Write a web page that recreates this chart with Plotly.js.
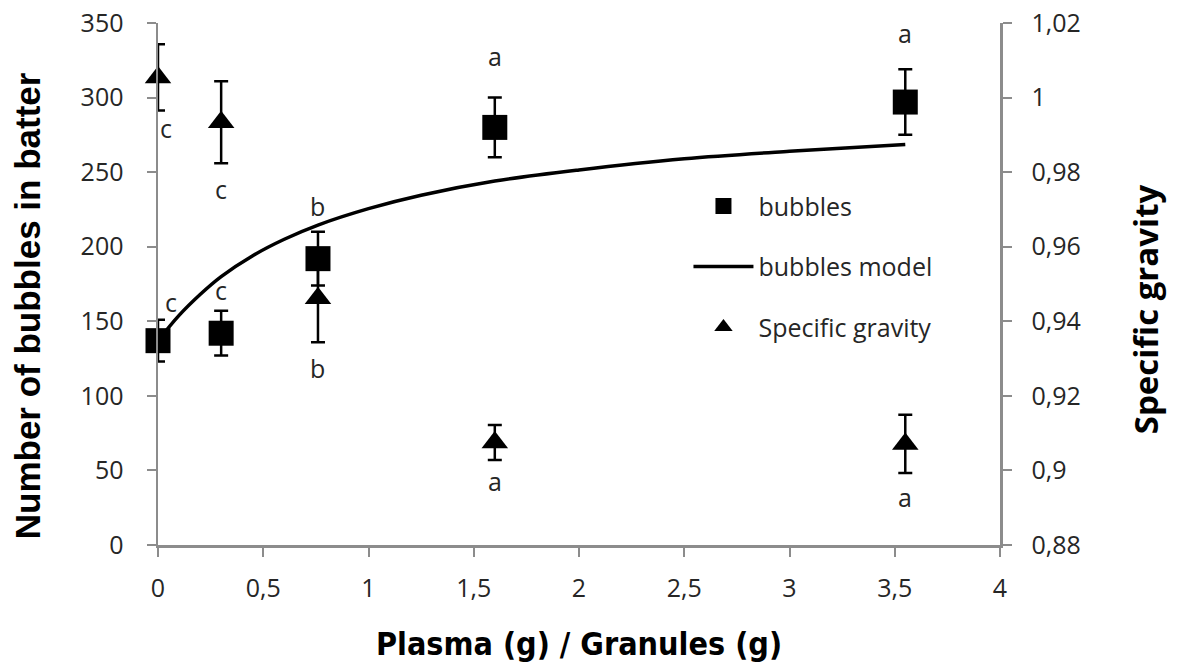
<!DOCTYPE html>
<html>
<head>
<meta charset="utf-8">
<script src="https://cdn.plot.ly/plotly-3.0.1.min.js"></script>
<style>
  html, body { margin: 0; padding: 0; background: #ffffff; }
  #chart { width: 1180px; height: 670px; }
</style>
</head>
<body>
<div id="chart"></div>
<script>
// Plasma / granules ratio tested
const ratio = [0, 0.3, 0.76, 1.6, 3.55];

// Number of bubbles counted in the batter (mean and spread)
const bubbles = [137, 142, 192, 280, 297];
const bubblesErr = [14, 15, 18, 20, 22];
const bubblesGroups = ['c', 'c', 'b', 'a', 'a'];

// Specific gravity of the batter (mean and spread)
const gravity = [1.0054, 0.9934, 0.9462, 0.9075, 0.9071];
const gravityErr = [0.0089, 0.011, 0.0118, 0.0047, 0.0078];
const gravityGroups = ['c', 'c', 'b', 'a', 'a'];

// Fitted bubble model, sampled along the ratio axis
const modelRatio = [0, 0.1, 0.2, 0.3, 0.45, 0.6, 0.76, 1.0, 1.25, 1.6, 2.0, 2.5, 3.0, 3.55];
const modelBubbles = [137, 154, 168, 180, 194, 205, 214.5, 225.5, 234.5, 244, 251.5, 259, 264, 268.5];

const xTickVals = [0, 0.5, 1, 1.5, 2, 2.5, 3, 3.5, 4];
const xTickText = ['0', '0,5', '1', '1,5', '2', '2,5', '3', '3,5', '4'];

const tickFont = { family: '"Open Sans", "DejaVu Sans", sans-serif', size: 25, color: '#262626' };
const axisGrey = '#8c8c8c';

const traces = [
  {
    name: 'bubbles',
    x: ratio, y: bubbles,
    type: 'scatter', mode: 'markers', cliponaxis: false,
    marker: { symbol: 'square', size: 25, color: '#000000' },
    error_y: { type: 'data', array: bubblesErr, visible: true, color: '#000000', thickness: 2.5, width: 7 },
    legendgroup: 'g1', yaxis: 'y'
  },
  {
    name: 'bubbles model',
    x: modelRatio, y: modelBubbles,
    type: 'scatter', mode: 'lines', cliponaxis: false,
    line: { color: '#000000', width: 3.5, shape: 'spline', smoothing: 1 },
    legendgroup: 'g2', yaxis: 'y'
  },
  {
    name: 'Specific gravity',
    x: ratio, y: gravity,
    type: 'scatter', mode: 'markers', cliponaxis: false,
    marker: { symbol: 'triangle-up', size: 23, color: '#000000' },
    error_y: { type: 'data', array: gravityErr, visible: true, color: '#000000', thickness: 2.5, width: 7 },
    legendgroup: 'g3', yaxis: 'y2'
  }
];

// Significance letters: above the bubble counts, below the gravity values
const bubbleShift = [18, 21, 26, 42, 36];
const bubbleXShift = [13, 0, 0, 0, 0];
const gravityShift = [-17, -26, -26, -21, -24];
const gravityXShift = [8, 0, 0, 0, 0];
const letterFont = { family: '"Open Sans", "DejaVu Sans", sans-serif', size: 25, color: '#262626' };

const annotations = [];
ratio.forEach((r, i) => {
  annotations.push({
    x: r, y: bubbles[i] + bubblesErr[i], xref: 'x', yref: 'y',
    text: bubblesGroups[i], showarrow: false, font: letterFont,
    xanchor: 'center', yanchor: 'middle', yshift: bubbleShift[i], xshift: bubbleXShift[i]
  });
  annotations.push({
    x: r, y: gravity[i] - gravityErr[i], xref: 'x', yref: 'y2',
    text: gravityGroups[i], showarrow: false, font: letterFont,
    xanchor: 'center', yanchor: 'middle', yshift: gravityShift[i], xshift: gravityXShift[i]
  });
});

// Vertical axis titles, set slightly below the plot's mid-height
annotations.push({
  text: 'Number of bubbles in batter', textangle: -90, showarrow: false,
  xref: 'paper', yref: 'paper', x: -0.154, y: 0.458, xanchor: 'center', yanchor: 'middle',
  font: { family: '"Liberation Sans", Arial, sans-serif', size: 35, color: '#000000', weight: 'bold' }
});
annotations.push({
  text: 'Specific gravity', textangle: -90, showarrow: false,
  xref: 'paper', yref: 'paper', x: 1.173, y: 0.451, xanchor: 'center', yanchor: 'middle',
  font: { family: '"Open Sans", "DejaVu Sans", sans-serif', size: 33, color: '#000000', weight: 'bold' }
});

const layout = {
  width: 1180, height: 670,
  margin: { l: 158, r: 180, t: 23, b: 125, pad: 0 },
  paper_bgcolor: '#ffffff', plot_bgcolor: '#ffffff',
  separators: ', ',
  showlegend: true,
  legend: {
    x: 0.63, y: 0.693, xanchor: 'left', yanchor: 'top',
    bgcolor: 'rgba(0,0,0,0)',
    font: { family: '"Open Sans", "DejaVu Sans", sans-serif', size: 25, color: '#262626' },
    tracegroupgap: 25, itemwidth: 60
  },
  xaxis: {
    range: [0, 4], tickvals: xTickVals, ticktext: xTickText,
    showline: true, linecolor: axisGrey, linewidth: 2.5,
    ticks: 'outside', ticklen: 9, tickwidth: 2, tickcolor: axisGrey,
    showgrid: false, zeroline: false, tickfont: tickFont, ticklabelstandoff: 10,
    title: { text: 'Plasma (g) / Granules (g)', standoff: 30,
      font: { family: '"Liberation Sans Narrow", "DejaVu Sans Condensed", sans-serif', size: 32, color: '#000000', weight: 'bold' } }
  },
  yaxis: {
    range: [0, 350], dtick: 50,
    showline: true, linecolor: axisGrey, linewidth: 2.5,
    ticks: 'outside', ticklen: 9, tickwidth: 2, tickcolor: axisGrey,
    showgrid: false, zeroline: false, tickfont: tickFont, ticklabelstandoff: 18
  },
  yaxis2: {
    range: [0.88, 1.02], dtick: 0.02, overlaying: 'y', side: 'right',
    showline: true, linecolor: axisGrey, linewidth: 2.5,
    ticks: 'outside', ticklen: 9, tickwidth: 2, tickcolor: axisGrey,
    showgrid: false, zeroline: false, tickfont: tickFont, ticklabelstandoff: 15
  },
  annotations: annotations
};

Plotly.newPlot('chart', traces, layout, { staticPlot: true, displayModeBar: false });
</script>
</body>
</html>
